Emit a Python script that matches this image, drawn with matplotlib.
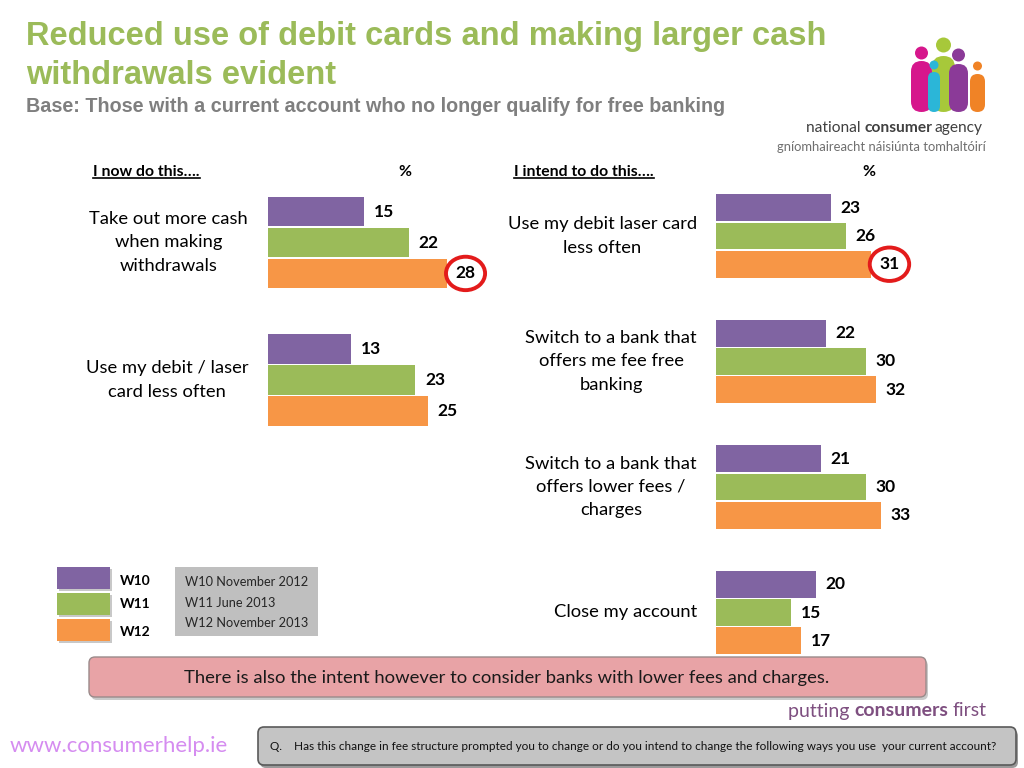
import matplotlib
matplotlib.use("Agg")
import matplotlib.pyplot as plt
from matplotlib.patches import FancyBboxPatch, Rectangle, Circle
from matplotlib.lines import Line2D

# Data
waves = ["W10", "W11", "W12"]
wave_desc = ["W10 November 2012", "W11 June 2013", "W12 November 2013"]
colors = ["#8064A2", "#9BBB59", "#F79646"]

now_items = ["Take out more cash\nwhen making\nwithdrawals",
             "Use my debit / laser\ncard less often"]
now_w10 = [15, 13]
now_w11 = [22, 23]
now_w12 = [28, 25]

intend_items = ["Use my debit laser card\nless often",
                "Switch to a bank that\noffers me fee free\nbanking",
                "Switch to a bank that\noffers lower fees /\ncharges",
                "Close my account"]
intend_w10 = [23, 22, 21, 20]
intend_w11 = [26, 30, 30, 15]
intend_w12 = [31, 32, 33, 17]

# highlighted (circled) values: (group index, wave index)
now_circled = (0, 2)
intend_circled = (0, 2)

body_font = ["Lato", "DejaVu Sans"]
title_font = ["Liberation Sans", "DejaVu Sans"]

fig = plt.figure(figsize=(10.24, 7.68), dpi=100)
fig.patch.set_facecolor("white")

# overlay axes in pixel coordinates for decorations
ov = fig.add_axes([0, 0, 1, 1], zorder=0)
ov.set_xlim(0, 1024)
ov.set_ylim(768, 0)
ov.axis("off")


def draw_bars(ax, series, circled):
    pitch = 0.225
    for j, vals in enumerate(series):
        ys = [i + (j - 1) * pitch for i in range(len(vals))]
        ax.barh(ys, vals, height=0.212, color=colors[j], edgecolor="none")
        for i, (y, v) in enumerate(zip(ys, vals)):
            if (i, j) == circled:
                ax.annotate(str(v), (v, y), xytext=(6, 0), textcoords="offset points",
                            ha="left", va="center", fontsize=12.5, fontweight="bold",
                            family=body_font, zorder=5,
                            bbox=dict(boxstyle="ellipse,pad=0.22", fc="white",
                                      ec="#E31B1B", lw=2.8))
            else:
                ax.annotate(str(v), (v, y), xytext=(7, 0), textcoords="offset points",
                            ha="left", va="center", fontsize=12.5, fontweight="bold",
                            family=body_font)
    ax.set_xlim(0, 40)
    ax.set_ylim(len(series[0]) - 0.5, -0.5)
    ax.axis("off")


# left panel: 6.4 px per unit, right panel: 5 px per unit
axl = fig.add_axes([268 / 1024, 1 - 448.75 / 768, 256 / 1024, 275 / 768], zorder=2)
axl.patch.set_alpha(0)
draw_bars(axl, [now_w10, now_w11, now_w12], now_circled)
axr = fig.add_axes([716 / 1024, 1 - 675.25 / 768, 200 / 1024, 502 / 768], zorder=2)
axr.patch.set_alpha(0)
draw_bars(axr, [intend_w10, intend_w11, intend_w12], intend_circled)

# category labels
for i, lab in enumerate(now_items):
    axl.annotate(lab, (0, i), xytext=(-20, 0), textcoords="offset pixels",
                 ha="right", va="center", multialignment="center",
                 fontsize=13.2, family=body_font, linespacing=1.55)
for i, lab in enumerate(intend_items):
    axr.annotate(lab, (0, i), xytext=(-19, 0), textcoords="offset pixels",
                 ha="right", va="center", multialignment="center",
                 fontsize=13.2, family=body_font, linespacing=1.55)

# title
ov.text(26, 37, "Reduced use of debit cards and making larger cash",
        fontsize=23.5, fontweight="bold", color="#9BBB59", family=title_font,
        va="center", ha="left")
ov.text(26, 76, "withdrawals evident",
        fontsize=23.5, fontweight="bold", color="#9BBB59", family=title_font,
        va="center", ha="left")
ov.text(26, 106, "Base: Those with a current account who no longer qualify for free banking",
        fontsize=14.2, fontweight="bold", color="#7F7F7F", family=title_font,
        va="center", ha="left")

# column headers
h1 = ov.text(93, 172, "I now do this….", fontsize=11.3, fontweight="bold",
             family=body_font, va="center", ha="left")
h2 = ov.text(514, 172, "I intend to do this….", fontsize=11.3, fontweight="bold",
             family=body_font, va="center", ha="left")
ov.text(405, 172, "%", fontsize=11.3, fontweight="bold", family=body_font,
        va="center", ha="center")
ov.text(869, 172, "%", fontsize=11.3, fontweight="bold", family=body_font,
        va="center", ha="center")

# logo: people figures
people = [  # (x0, x1, head_y, head_r, body_top, color)
    (932, 955, 45, 7.5, 56, "#A7C83A"),
    (911, 932, 53, 6.5, 61, "#D6178C"),
    (949, 968, 55, 6.5, 64, "#8B3A98"),
    (928, 940, 65, 4.5, 72, "#2BB6D8"),
    (970, 985, 66, 4.5, 74, "#F08326"),
]
for x0, x1, hy, hr, bt, c in people:
    w = x1 - x0
    ov.add_patch(FancyBboxPatch((x0, bt), w, 112 - bt,
                                boxstyle="round,pad=0,rounding_size=%f" % (w / 2),
                                fc=c, ec="none", mutation_aspect=1))
    ov.add_patch(Circle(((x0 + x1) / 2, hy), hr, fc=c, ec="none"))
t_nat = ov.text(806, 128, "national ", fontsize=11.2, family=body_font, ha="left",
                va="center", color="#404040")
ov.text(986, 147, "gníomhaireacht náisiúnta tomhaltóirí", fontsize=9.4,
        family=body_font, ha="right", va="center", color="#6F6F6F")

# legend
for j, (w, c) in enumerate(zip(waves, colors)):
    y0 = [567, 593, 619][j]
    ov.add_patch(Rectangle((59, y0 + 2), 53, 22, fc="#C8C8C8", ec="none"))
    ov.add_patch(Rectangle((57, y0), 53, 22, fc=c, ec="none"))
    ov.text(120, [581, 604, 632][j], w, fontsize=10, fontweight="bold",
            family=body_font, va="center", ha="left")
ov.add_patch(Rectangle((175, 567), 143, 69, fc="#BFBFBF", ec="none"))
for j, d in enumerate(wave_desc):
    ov.text(185, [582, 603, 623][j], d, fontsize=9.2, family=body_font,
            va="center", ha="left", color="#262626")

# conclusion box
ov.add_patch(FancyBboxPatch((91, 660), 837, 40, boxstyle="round,pad=0,rounding_size=6",
                            fc="#C9C9C9", ec="none"))
ov.add_patch(FancyBboxPatch((89, 657), 837, 40, boxstyle="round,pad=0,rounding_size=6",
                            fc="#E8A3A6", ec="#9A8A8A", lw=1))
ov.text(507, 678, "There is also the intent however to consider banks with lower fees and charges.",
        fontsize=13.3, family=body_font, va="center", ha="center", color="#1A1A1A")

# footer
ov.text(10, 746, "www.consumerhelp.ie", fontsize=16, family=body_font,
        va="center", ha="left", color="#D58CF0")
ov.add_patch(FancyBboxPatch((260, 730), 758, 38, boxstyle="round,pad=0,rounding_size=6",
                            fc="#9A9A9A", ec="none"))
ov.add_patch(FancyBboxPatch((258, 727), 758, 38, boxstyle="round,pad=0,rounding_size=6",
                            fc="#C4C4C4", ec="#5A5A5A", lw=1.2))
ov.text(270, 746, "Q.    Has this change in fee structure prompted you to change or do you intend to change the following ways you use  your current account?",
        fontsize=8.5, family=body_font, va="center", ha="left", color="#111111")

fig.canvas.draw()
r = fig.canvas.get_renderer()


def right_of(t):
    bb = t.get_window_extent(r)
    return ov.transData.inverted().transform((bb.x1, bb.y0))[0]


# "national consumer agency" with bold middle word
t_con = ov.text(right_of(t_nat), 128, "consumer", fontsize=11.2, fontweight="bold",
                family=body_font, ha="left", va="center", color="#404040")
fig.canvas.draw()
ov.text(right_of(t_con) + 2, 128, "agency", fontsize=11.2, family=body_font, ha="left",
        va="center", color="#404040")

# "putting consumers first"
p1 = ov.text(788, 711, "putting ", fontsize=14, family=body_font, ha="left",
             va="center", color="#7E4F80")
fig.canvas.draw()
p2 = ov.text(right_of(p1), 711, "consumers", fontsize=14, fontweight="bold",
             family=body_font, ha="left", va="center", color="#7E4F80")
fig.canvas.draw()
ov.text(right_of(p2) + 4, 711, "first", fontsize=14, family=body_font, ha="left",
        va="center", color="#7E4F80")

# underline headers
for h in (h1, h2):
    bb = h.get_window_extent(r)
    (xa, ya), (xb, yb) = ov.transData.inverted().transform([(bb.x0, bb.y0), (bb.x1, bb.y1)])
    ov.add_line(Line2D([xa, xb], [ya - 1, ya - 1], color="black", lw=1.2))

fig.savefig("out.png", dpi=100, facecolor="white")
